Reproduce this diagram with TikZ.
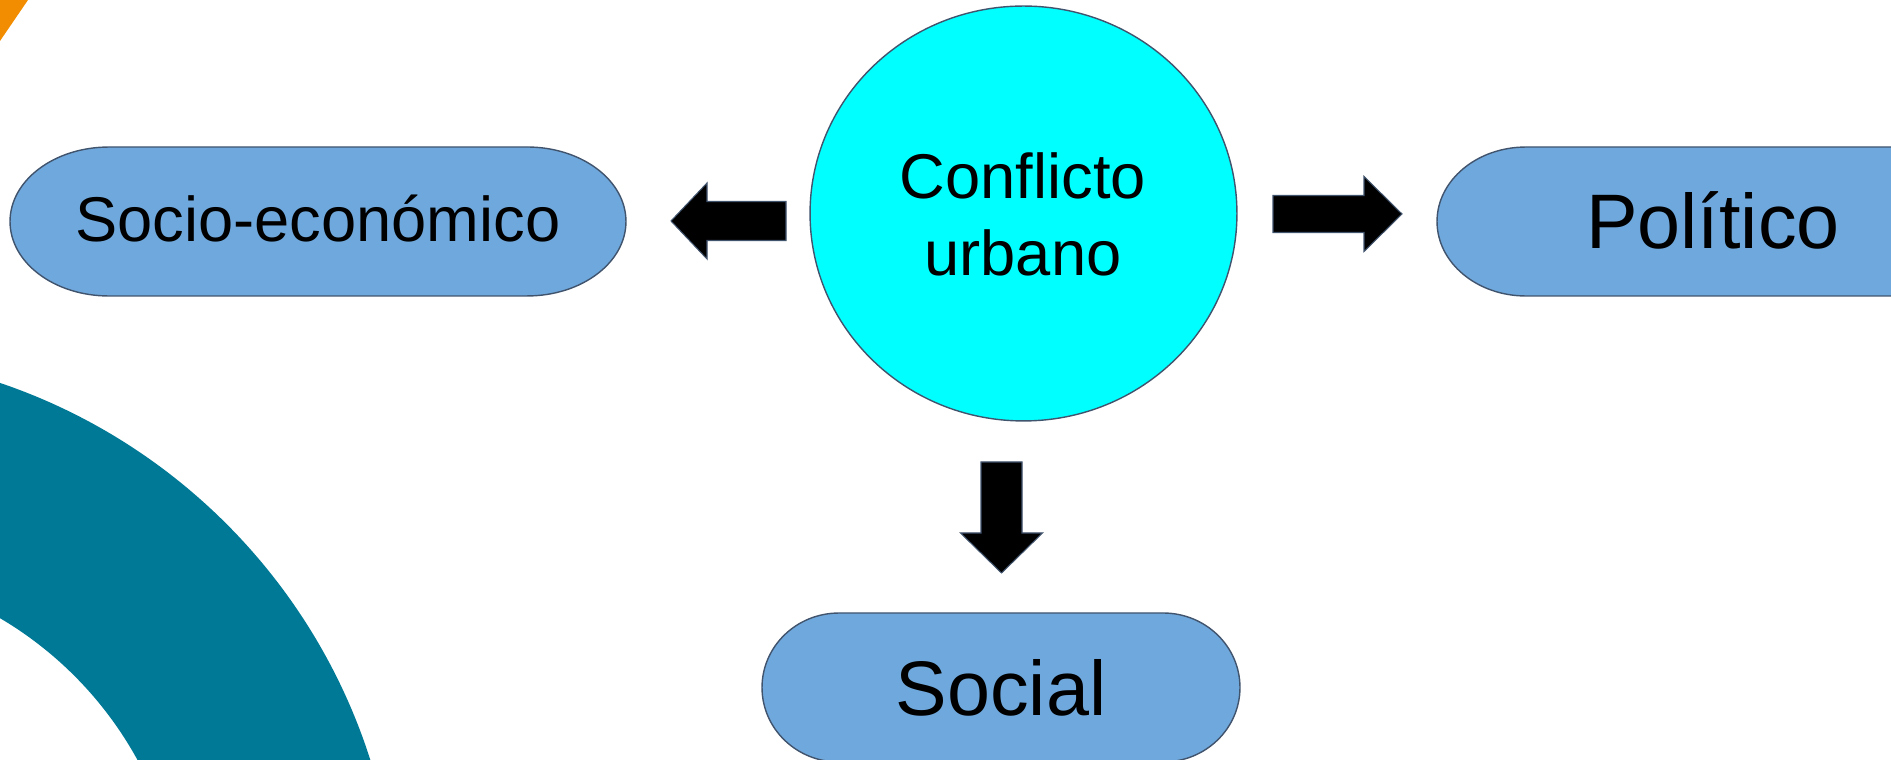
\documentclass[tikz,border=0pt]{standalone}
\usepackage{fontspec}
\setmainfont{Liberation Sans}
\usetikzlibrary{shapes.geometric}
\definecolor{tealring}{RGB}{0,121,150}
\definecolor{orangetri}{RGB}{242,140,0}
\definecolor{boxfill}{RGB}{111,168,220}
\definecolor{edgecol}{RGB}{65,84,110}
\definecolor{cyanfill}{RGB}{0,255,255}
\tikzset{
  termbox/.style={draw=edgecol, fill=boxfill, line width=0.8pt},
  blockarrow/.style={draw=edgecol, fill=black, line width=0.6pt, line join=miter},
  bigtext/.style={anchor=base, inner sep=0pt, font=\fontsize{44}{52}\selectfont},
  midtext/.style={anchor=base, inner sep=0pt, font=\fontsize{36}{43}\selectfont}
}
\begin{document}
\begin{tikzpicture}[x=0.02cm,y=0.02cm]
\useasboundingbox (0,0) rectangle (1891,760);
\clip (0,0) rectangle (1891,760);
% background decorations
\fill[tealring, even odd rule] (-188,-178) circle[radius=11.72cm] (-188,-178) circle[radius=7.42cm];
\fill[orangetri] (0,760) -- (28,760) -- (0,719) -- cycle;
% boxes
\draw[termbox] (109,613) -- (527,613) arc[start angle=90,end angle=-90,x radius=1.98cm,y radius=1.49cm]
  -- (109,464) arc[start angle=270,end angle=90,x radius=1.98cm,y radius=1.49cm] -- cycle;
\draw[termbox] (1526,613) -- (1910,613) -- (1910,464) -- (1526,464)
  arc[start angle=270,end angle=90,x radius=1.78cm,y radius=1.49cm] -- cycle;
\draw[termbox] (839,147) -- (1163,147) arc[start angle=90,end angle=-90,x radius=1.54cm,y radius=1.49cm]
  -- (839,-2) arc[start angle=270,end angle=90,x radius=1.54cm,y radius=1.49cm] -- cycle;
% central ellipse
\node[draw=edgecol, fill=cyanfill, line width=0.8pt, ellipse, minimum width=8.54cm, minimum height=8.3cm, inner sep=0pt] (conf) at (1023.5,546.5) {};
% block arrows
\draw[blockarrow] (671,539) -- (707,577) -- (707,558.5) -- (786,558.5) -- (786,519.5) -- (707,519.5) -- (707,501) -- cycle;
\draw[blockarrow] (1273,564.5) -- (1364,564.5) -- (1364,583.5) -- (1402,546) -- (1364,508.5) -- (1364,527.5) -- (1273,527.5) -- cycle;
\draw[blockarrow] (981,298) -- (1022,298) -- (1022,227) -- (1042.5,227) -- (1001.5,187) -- (960.5,227) -- (981,227) -- cycle;
% texts
\node[midtext] (socio) at (318,518) {Socio-económico};
\node[bigtext] (politico) at (1713,511) {Político};
\node[bigtext] (social) at (1001,44.5) {Social};
\node[midtext] (conf1) at (1023,561) {Conflicto};
\node[midtext] (conf2) at (1023,484) {urbano};
\end{tikzpicture}
\end{document}
